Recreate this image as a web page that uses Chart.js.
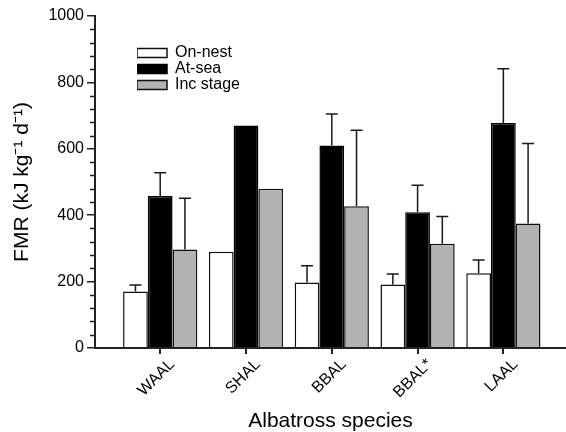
<!DOCTYPE html>
<html>
<head>
<meta charset="utf-8">
<script src="https://cdn.jsdelivr.net/npm/chart.js@4.4.1/dist/chart.umd.min.js"></script>
<style>
html,body{margin:0;padding:0;background:#fff}
#wrap{width:566px;height:432px}
</style>
</head>
<body>
<div id="wrap"><canvas id="c"></canvas></div>
<script>
const species = ['WAAL','SHAL','BBAL','BBAL*','LAAL'];
const onNest = [170, 290, 197, 191, 225];
const atSea = [458, 670, 610, 409, 678];
const incStage = [297, 480, 427, 314, 375];
// upward error (SD), null = none shown
const onNestSd = [20, null, 51, 32, 40];
const atSeaSd = [70, null, 95, 81, 163];
const incStageSd = [154, null, 229, 82, 241];
const yMax = 1000, yStep = 200, yMinorStep = 40;

Chart.defaults.font.family = "'Liberation Sans', Arial, sans-serif";
Chart.defaults.color = '#000';

const pts = arr => arr.map((v, i) => ({ x: i, y: v }));

const errorBars = {
  id: 'errorBars',
  afterDatasetsDraw(chart){
    const ctx = chart.ctx, y = chart.scales.y;
    chart.data.datasets.forEach((ds, i) => {
      chart.getDatasetMeta(i).data.forEach((bar, j) => {
        const sd = ds.sd[j];
        if (sd == null) return;
        const top = y.getPixelForValue(ds.data[j].y + sd);
        ctx.save();
        ctx.strokeStyle = '#1a1a1a'; ctx.lineWidth = 1.5;
        ctx.beginPath();
        ctx.moveTo(bar.x, bar.y); ctx.lineTo(bar.x, top);
        ctx.moveTo(bar.x - 6, top); ctx.lineTo(bar.x + 6, top);
        ctx.stroke();
        ctx.restore();
      });
    });
  }
};

// axis line, minor y ticks and the short category ticks under the x axis
const axisMarks = {
  id: 'axisMarks',
  afterDraw(chart){
    const ctx = chart.ctx, ys = chart.scales.y, xs = chart.scales.x;
    const left = chart.chartArea.left, right = chart.chartArea.right, bottom = chart.chartArea.bottom;
    ctx.save();
    ctx.strokeStyle = '#222';
    ctx.lineWidth = 2;
    ctx.beginPath();
    ctx.moveTo(left - 1, bottom); ctx.lineTo(right, bottom);
    species.forEach((_, i) => {
      const px = Math.round(xs.getPixelForValue(i));
      ctx.moveTo(px, bottom); ctx.lineTo(px, bottom + 6);
    });
    ctx.stroke();
    ctx.lineWidth = 1.5;
    ctx.beginPath();
    for (let v = yMinorStep; v < yMax; v += yMinorStep){
      if (v % yStep === 0) continue;
      const py = Math.round(ys.getPixelForValue(v)) + 0.5;
      ctx.moveTo(left - 5, py); ctx.lineTo(left, py);
    }
    ctx.stroke();
    ctx.restore();
  }
};

const legendShift = {
  id: 'legendShift',
  afterLayout(chart){
    chart.legend.left += 42;
    chart.legend.top += 45;
  }
};

new Chart(document.getElementById('c'), {
  type: 'bar',
  data: {
    datasets: [
      { label:'On-nest', data: pts(onNest), sd: onNestSd, backgroundColor:'#fff', borderColor:'#111', borderWidth:1.5 },
      { label:'At-sea', data: pts(atSea), sd: atSeaSd, backgroundColor:'#000', borderColor:'#000', borderWidth:1.5 },
      { label:'Inc stage', data: pts(incStage), sd: incStageSd, backgroundColor:'#b2b2b2', borderColor:'#111', borderWidth:1.5 }
    ]
  },
  options: {
    responsive:true, maintainAspectRatio:false, animation:false,
    categoryPercentage:0.865, barPercentage:1,
    layout:{ padding:{ left:0, right:0, top:16, bottom:0 } },
    plugins:{
      tooltip:{ enabled:false },
      legend:{ position:'chartArea', align:'start',
        labels:{ boxWidth:30, boxHeight:9, padding:0, font:{ size:16 }, color:'#000' } }
    },
    scales:{
      x:{ type:'linear', min:-0.76, max:4.73, offset:false,
        afterBuildTicks: s => { s.ticks = species.map((_, i) => ({ value:i })); },
        grid:{ offset:false, drawOnChartArea:false, tickLength:5, tickColor:'rgba(0,0,0,0)' },
        border:{ display:false },
        ticks:{ callback: v => species[v], minRotation:45, maxRotation:45, autoSkip:false,
          labelOffset:12, padding:2, font:{ size:16 }, color:'#000' },
        title:{ display:true, text:'Albatross species', font:{ size:21 }, color:'#000', padding:{ top:0, bottom:-2 } },
        afterFit: s => { s.height = 84; }
      },
      y:{ min:0, max:yMax,
        ticks:{ stepSize:yStep, padding:3, font:{ size:16 }, color:'#000', callback: v => String(v) },
        grid:{ drawOnChartArea:false, tickLength:8, color:'#222', lineWidth:1.5 },
        border:{ color:'#222', width:2 },
        title:{ display:true, text:'FMR (kJ kg\u207B\u00B9 d\u207B\u00B9)', font:{ size:21 }, color:'#000', padding:{ top:10, bottom:0 } },
        afterFit: s => { s.width = 95; }
      }
    }
  },
  plugins:[errorBars, axisMarks, legendShift]
});
</script>
</body>
</html>
